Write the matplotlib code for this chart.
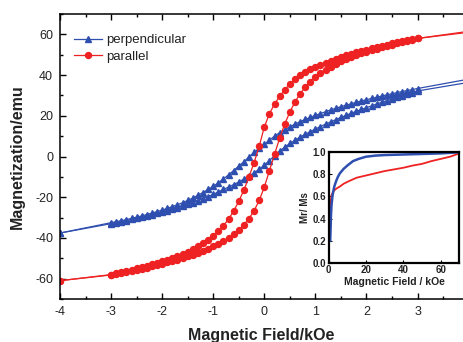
import matplotlib
matplotlib.use("Agg")
import matplotlib.pyplot as plt
from matplotlib.ticker import MultipleLocator

plt.rcParams['font.family'] = ['Liberation Sans', 'DejaVu Sans']
plt.rcParams['axes.unicode_minus'] = False

# ---------------- data ----------------
field = [-3.0, -2.9, -2.8, -2.7, -2.6, -2.5, -2.4, -2.3, -2.2, -2.1,
         -2.0, -1.9, -1.8, -1.7, -1.6, -1.5, -1.4, -1.3, -1.2, -1.1,
         -1.0, -0.9, -0.8, -0.7, -0.6, -0.5, -0.4, -0.3, -0.2, -0.1,
         0.0, 0.1, 0.2, 0.3, 0.4, 0.5, 0.6, 0.7, 0.8, 0.9,
         1.0, 1.1, 1.2, 1.3, 1.4, 1.5, 1.6, 1.7, 1.8, 1.9,
         2.0, 2.1, 2.2, 2.3, 2.4, 2.5, 2.6, 2.7, 2.8, 2.9, 3.0]

# parallel (red) - descending branch (upper)
par_down = [-58.0, -57.4, -56.8, -56.2, -55.6, -55.0, -54.4, -53.7, -53.0, -52.3,
            -51.5, -50.7, -49.8, -48.8, -47.8, -46.7, -45.5, -44.2, -42.7, -41.0,
            -39.0, -36.8, -34.0, -30.8, -26.8, -22.0, -16.5, -10.0, -3.0, 5.0,
            14.5, 21.0, 25.8, 29.5, 32.8, 35.6, 37.9, 39.8, 41.4, 42.8,
            44.0, 45.1, 46.1, 47.1, 48.0, 48.9, 49.7, 50.5, 51.2, 51.9,
            52.5, 53.2, 53.8, 54.4, 55.0, 55.6, 56.1, 56.6, 57.1, 57.6, 58.0]
# parallel (red) - ascending branch (lower)
par_up = [-58.2, -57.8, -57.3, -56.8, -56.3, -55.8, -55.2, -54.6, -54.0, -53.4,
          -52.7, -52.0, -51.3, -50.6, -49.8, -49.0, -48.2, -47.3, -46.3, -45.3,
          -44.2, -43.0, -41.7, -40.1, -38.3, -36.2, -33.6, -30.5, -26.6, -21.6,
          -15.0, -7.0, 1.0, 9.0, 16.0, 21.8, 26.8, 30.8, 34.0, 36.8,
          39.0, 41.0, 42.7, 44.2, 45.5, 46.7, 47.8, 48.8, 49.8, 50.7,
          51.5, 52.3, 53.0, 53.7, 54.4, 55.0, 55.6, 56.2, 56.8, 57.4, 58.0]

# perpendicular (blue) - descending branch (upper)
perp_down = [-32.5, -32.0, -31.5, -31.0, -30.4, -29.8, -29.2, -28.5, -27.8, -27.1,
             -26.3, -25.5, -24.6, -23.7, -22.7, -21.6, -20.4, -19.1, -17.7, -16.2,
             -14.6, -12.9, -11.0, -9.0, -6.9, -4.7, -2.6, -0.2, 2.0, 4.0,
             5.9, 8.0, 10.0, 11.7, 13.2, 14.6, 15.9, 17.1, 18.2, 19.2,
             20.2, 21.1, 22.0, 22.9, 23.7, 24.5, 25.2, 25.9, 26.6, 27.3,
             27.9, 28.5, 29.1, 29.7, 30.3, 30.8, 31.4, 31.9, 32.4, 32.9, 33.4]
# perpendicular (blue) - ascending branch (lower)
perp_up = [-33.0, -32.5, -32.0, -31.5, -30.9, -30.3, -29.7, -29.1, -28.5, -27.9,
           -27.3, -26.6, -25.9, -25.1, -24.3, -23.5, -22.6, -21.7, -20.7, -19.7,
           -18.6, -17.4, -16.2, -15.0, -13.8, -12.5, -11.1, -9.6, -8.0, -6.3,
           -4.3, -2.0, 0.4, 2.6, 4.6, 6.4, 8.0, 9.5, 10.9, 12.2,
           13.5, 14.7, 15.9, 17.0, 18.1, 19.2, 20.2, 21.2, 22.2, 23.1,
           24.0, 24.9, 25.8, 26.6, 27.4, 28.2, 29.0, 29.8, 30.6, 31.4, 32.2]

# end points of the sweeps (±4 kOe)
end_field = [-4.0, 4.0]
par_down_end = [-61.0, 61.5]
par_up_end = [-61.0, 61.0]
perp_down_end = [-37.6, 38.0]
perp_up_end = [-37.6, 36.4]

# inset: Mr/Ms vs field
inset_blue_x = [0.8, 1.0, 1.2, 1.5, 2.0, 2.5, 3.0, 4.0, 5.0, 6.0, 8.0, 10.0,
                13.0, 16.0, 20.0, 25.0, 30.0, 40.0, 50.0, 60.0, 70.0]
inset_blue_y = [0.20, 0.30, 0.42, 0.52, 0.60, 0.65, 0.69, 0.74, 0.78, 0.81, 0.85, 0.88,
                0.92, 0.94, 0.96, 0.97, 0.975, 0.98, 0.985, 0.99, 1.0]
inset_red_x = [0.0, 0.2, 0.4, 0.7, 1.0, 1.5, 2.0, 3.0, 4.0, 6.0, 8.0, 11.0,
               15.0, 20.0, 25.0, 30.0, 35.0, 40.0, 45.0, 50.0, 55.0, 60.0, 65.0, 70.0]
inset_red_y = [0.0, 0.20, 0.36, 0.48, 0.55, 0.61, 0.63, 0.655, 0.67, 0.69, 0.715, 0.74,
               0.77, 0.79, 0.81, 0.83, 0.845, 0.86, 0.88, 0.895, 0.92, 0.94, 0.96, 0.99]

xticks = [-4, -3, -2, -1, 0, 1, 2, 3]
yticks = [-60, -40, -20, 0, 20, 40, 60]

BLUE = '#2f4fb0'
RED = '#ee2222'
TXT = '#222222'

fig = plt.figure(figsize=(4.63, 3.42), dpi=100)
ax = fig.add_axes([60/463, 1-299/342, 1-60/463, 285/342])


def branch(main_x, main_y, end_y):
    xs = [end_field[0]] + list(main_x) + [end_field[1]]
    ys = [end_y[0]] + list(main_y) + [end_y[1]]
    return xs, ys


for yv, ye, lab in [(perp_down, perp_down_end, 'perpendicular'), (perp_up, perp_up_end, None)]:
    xs, ys = branch(field, yv, ye)
    ax.plot(xs, ys, color=BLUE, lw=0.9, marker='^', ms=4.8, mec=BLUE, mfc=BLUE,
            label=lab, clip_on=True)
for yv, ye, lab in [(par_down, par_down_end, 'parallel'), (par_up, par_up_end, None)]:
    xs, ys = branch(field, yv, ye)
    ax.plot(xs, ys, color=RED, lw=0.9, marker='o', ms=4.3, mec=RED, mfc=RED,
            label=lab, clip_on=True)

ax.set_xlim(-4, 3.89)
ax.set_ylim(-70, 70)
ax.set_xticks(xticks)
ax.set_yticks(yticks)
ax.xaxis.set_minor_locator(MultipleLocator(0.5))
ax.yaxis.set_minor_locator(MultipleLocator(10))
ax.tick_params(which='both', direction='in', top=True, right=False,
               labelsize=9, labelcolor=TXT, width=1.0)
ax.tick_params(which='major', length=4.5, pad=5)
ax.tick_params(which='minor', length=2.5)
ax.spines['right'].set_visible(False)
for s in ['left', 'bottom', 'top']:
    ax.spines[s].set_linewidth(1.1)
ax.set_xlabel('Magnetic Field/kOe', fontsize=11.5, fontweight='bold', color=TXT, labelpad=7)
ax.set_ylabel('Magnetization/emu', fontsize=11.5, fontweight='bold', color=TXT, labelpad=7)

leg = ax.legend(loc='upper left', bbox_to_anchor=(0.035, 0.93), frameon=False,
                fontsize=9.5, handlelength=2.1, handletextpad=0.3, labelspacing=0.35,
                borderpad=0, borderaxespad=0, numpoints=1)
for t in leg.get_texts():
    t.set_color(TXT)

# inset
ins = fig.add_axes([328.7/463, 1-262.7/342, (459.3-328.7)/463, (262.7-152.3)/342])
ins.plot(inset_red_x, inset_red_y, color=RED, lw=1.3)
ins.plot(inset_blue_x, inset_blue_y, color=BLUE, lw=1.8)
ins.set_xlim(0, 70)
ins.set_ylim(0, 1.0)
ins.set_xticks([0, 20, 40, 60])
ins.set_yticks([0.0, 0.2, 0.4, 0.6, 0.8, 1.0])
ins.set_yticklabels(['0.0', '0.2', '0.4', '0.6', '0.8', '1.0'])
ins.tick_params(direction='in', length=2.5, labelsize=7, pad=2, labelcolor=TXT)
for lab in ins.get_xticklabels() + ins.get_yticklabels():
    lab.set_fontweight('bold')
for s in ins.spines.values():
    s.set_linewidth(1.6)
ins.set_xlabel('Magnetic Field / kOe', fontsize=7.5, fontweight='bold', color=TXT, labelpad=1)
ins.set_ylabel('Mr/ Ms', fontsize=7, fontweight='bold', color=TXT, labelpad=2)

fig.savefig('out.png', dpi=100)
